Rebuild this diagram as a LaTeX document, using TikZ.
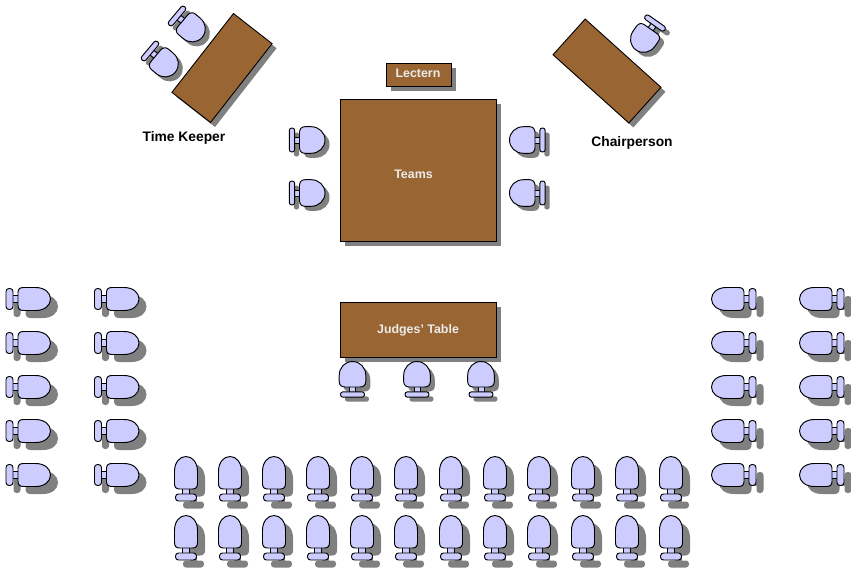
\documentclass[tikz,border=0pt]{standalone}
\usepackage{fontspec}
\setmainfont{Liberation Sans}
\definecolor{tablebrown}{HTML}{996633}
\definecolor{chairblue}{HTML}{CCCCFF}
\definecolor{shadowgray}{HTML}{808080}
\tikzset{
  tablebox/.style={draw=black,line width=0.9pt,fill=tablebrown,inner sep=0pt,outer sep=0pt},
  tablelabel/.style={text=white!92!black,font=\bfseries\fontsize{12.4}{14}\selectfont,inner sep=0pt},
  tableshadow/.style={fill=shadowgray,draw=none,inner sep=0pt,outer sep=0pt},
  seat/.style={draw=black,line width=0.95pt,fill=chairblue,line join=round},
  seatshadow/.style={fill=shadowgray,draw=none},
  caption/.style={font=\bfseries\fontsize{13.8}{16}\selectfont,text=black,inner sep=0pt}
}
% long chair, origin at the centre of the foot bar, seat pointing "up"
\newcommand{\longchair}[1]{%
  \path[#1] (-3.5,-3) rectangle (3.5,-9);
  \path[#1] (-10.5,-3.5) [rounded corners=3pt] -- (-10.5,3.5) -- (10.5,3.5) -- (10.5,-3.5) -- cycle;
  \path[#1] (-11.5,-14) .. controls (-11.5,-10.5) and (-10,-8.5) .. (-6.5,-8.5) -- (6.5,-8.5) .. controls (10,-8.5) and (11.5,-10.5) .. (11.5,-14)
     -- (11.5,-26) .. controls (11.5,-35) and (6.5,-41) .. (0,-41) .. controls (-6.5,-41) and (-11.5,-35) .. (-11.5,-26) -- cycle;
}
% short chair
\newcommand{\shortchair}[1]{%
  \path[#1] (-3,-2) rectangle (3,-8);
  \path[#1] (-12,-2.7) [rounded corners=2.5pt] -- (-12,2.7) -- (12,2.7) -- (12,-2.7) -- cycle;
  \path[#1] (-13.3,-13) .. controls (-13.3,-9.5) and (-11,-7.5) .. (-7.5,-7.5) -- (7.5,-7.5) .. controls (11,-7.5) and (13.3,-9.5) .. (13.3,-13)
     -- (13.3,-19) .. controls (13.3,-27) and (7.5,-33) .. (0,-33) .. controls (-7.5,-33) and (-13.3,-27) .. (-13.3,-19) -- cycle;
}
\newcommand{\placelong}[3]{%
  \begin{scope}[shift={(#1+7.5,#2+7.5)},rotate=#3]\longchair{seatshadow}\end{scope}
  \begin{scope}[shift={(#1,#2)},rotate=#3]\longchair{seat}\end{scope}}
\newcommand{\placeshort}[3]{%
  \begin{scope}[shift={(#1+4.5,#2+4.5)},rotate=#3]\shortchair{seatshadow}\end{scope}
  \begin{scope}[shift={(#1,#2)},rotate=#3]\shortchair{seat}\end{scope}}
% name, cx, cy, w, h, angle, shadow offset
\newcommand{\placetable}[7]{%
  \node[tableshadow,minimum width=#4pt,minimum height=#5pt,rotate=#6] (#1s) at (#2+#7,#3+#7) {};
  \node[tablebox,minimum width=#4pt,minimum height=#5pt,rotate=#6] (#1) at (#2,#3) {};}
\begin{document}
\begin{tikzpicture}[x=1pt,y=-1pt]
\useasboundingbox (0,0) rectangle (851,568);
% tables
\placetable{timetable}{222}{68}{100}{49}{52}{4.5}
\placetable{chairtable}{607}{71}{102}{48}{-42}{4.5}
\placetable{lectern}{418.5}{74.5}{65}{23}{0}{4.5}
\placetable{teams}{418.25}{170}{156.5}{142}{0}{4.5}
\placetable{judges}{418.25}{329.5}{156.5}{55}{0}{4.5}
% labels
\node[tablelabel] (lecternlabel) at (418,73) {Lectern};
\node[tablelabel] (teamslabel) at (413.5,174.5) {Teams};
\node[tablelabel] (judgeslabel) at (418,330) {Judges' Table};
\node[caption] (timekeeper) at (184,137.5) {Time Keeper};
\node[caption] (chairperson) at (632,142.5) {Chairperson};
% official chairs
\placeshort{177}{16}{-130}
\placeshort{150}{51}{-130}
\placeshort{655}{23}{145}
% team chairs
\foreach \yy in {140,193} {
  \placeshort{292}{\yy}{-90}
  \placeshort{542.5}{\yy}{90}
}
% judges' chairs
\foreach \xx in {352.5,417,481} { \placeshort{\xx}{394.5}{0} }
% side audience
\foreach \yy in {299,343,387,431,475} {
  \placelong{9.5}{\yy}{-90}
  \placelong{98}{\yy}{-90}
  \placelong{752.5}{\yy}{90}
  \placelong{840.5}{\yy}{90}
}
% front audience
\foreach \xx in {186,230,274,318,362,406,451,495,539,583,627,671} {
  \placelong{\xx}{497.5}{0}
  \placelong{\xx}{556.5}{0}
}
\end{tikzpicture}
\end{document}
